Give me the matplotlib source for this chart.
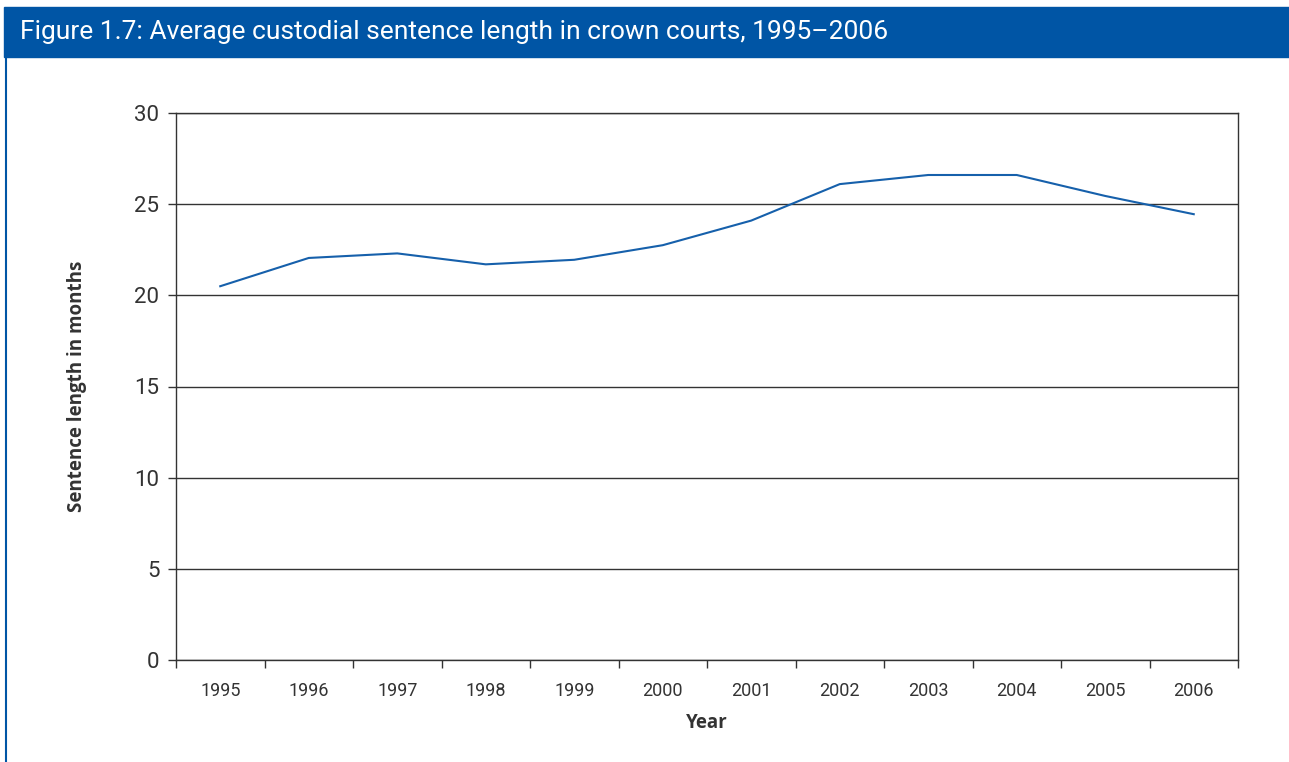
import matplotlib
matplotlib.use('Agg')
import matplotlib.pyplot as plt
from matplotlib.patches import Rectangle
from matplotlib.lines import Line2D

# data
years = ['1995', '1996', '1997', '1998', '1999', '2000',
         '2001', '2002', '2003', '2004', '2005', '2006']
months = [20.5, 22.05, 22.3, 21.7, 21.95, 22.75,
          24.1, 26.1, 26.6, 26.6, 25.45, 24.45]
y_ticks = [0, 5, 10, 15, 20, 25, 30]

title = 'Figure 1.7: Average custodial sentence length in crown courts, 1995\u20132006'
blue = '#0055a5'
line_col = '#1660ab'
dark = '#333333'

fig = plt.figure(figsize=(12.89, 7.62), dpi=100)

# header band and left border
fig.patches.append(Rectangle((4/1289, 1-57/762), 1-4/1289, 50/762,
                             transform=fig.transFigure, color=blue, zorder=0))
fig.lines.append(Line2D([5.5/1289, 5.5/1289], [0, 1-57/762],
                        transform=fig.transFigure, color=blue, lw=1.5))
fig.text(20/1289, 1-32/762, title, color='white', fontsize=19,
         family='Roboto', va='center', ha='left')

ax = fig.add_axes([176/1289, 1-660/762, (1238-176)/1289, (660-113)/762])
x = list(range(len(years)))
ax.plot(x, months, color=line_col, lw=1.5, zorder=3)

ax.set_xlim(-0.5, len(years)-0.5)
ax.set_ylim(0, 30)
ax.set_yticks(y_ticks)
ax.set_yticklabels([str(v) for v in y_ticks], fontsize=16, family='Roboto', color=dark)
ax.yaxis.grid(True, color=dark, lw=1)
ax.set_axisbelow(True)

# category axis: labels centred, tick marks between categories
ax.set_xticks(x)
ax.set_xticklabels(years, fontsize=13, family='Roboto', color=dark)
ax.set_xticks([i - 0.5 for i in range(len(years)+1)], minor=True)
ax.tick_params(axis='x', which='major', length=0, pad=16)
ax.tick_params(axis='x', which='minor', length=6, color=dark, width=1)
ax.tick_params(axis='y', length=6, color=dark, width=1, pad=6)

for s in ax.spines.values():
    s.set_color(dark)
    s.set_linewidth(1)

ax.set_xlabel('Year', fontsize=13.5, fontweight='bold', family='Open Sans',
              color=dark, labelpad=9)
ax.set_ylabel('Sentence length in months', fontsize=13.5, fontweight='bold',
              family='Open Sans', color=dark, labelpad=34)

fig.savefig('out.png', dpi=100)
